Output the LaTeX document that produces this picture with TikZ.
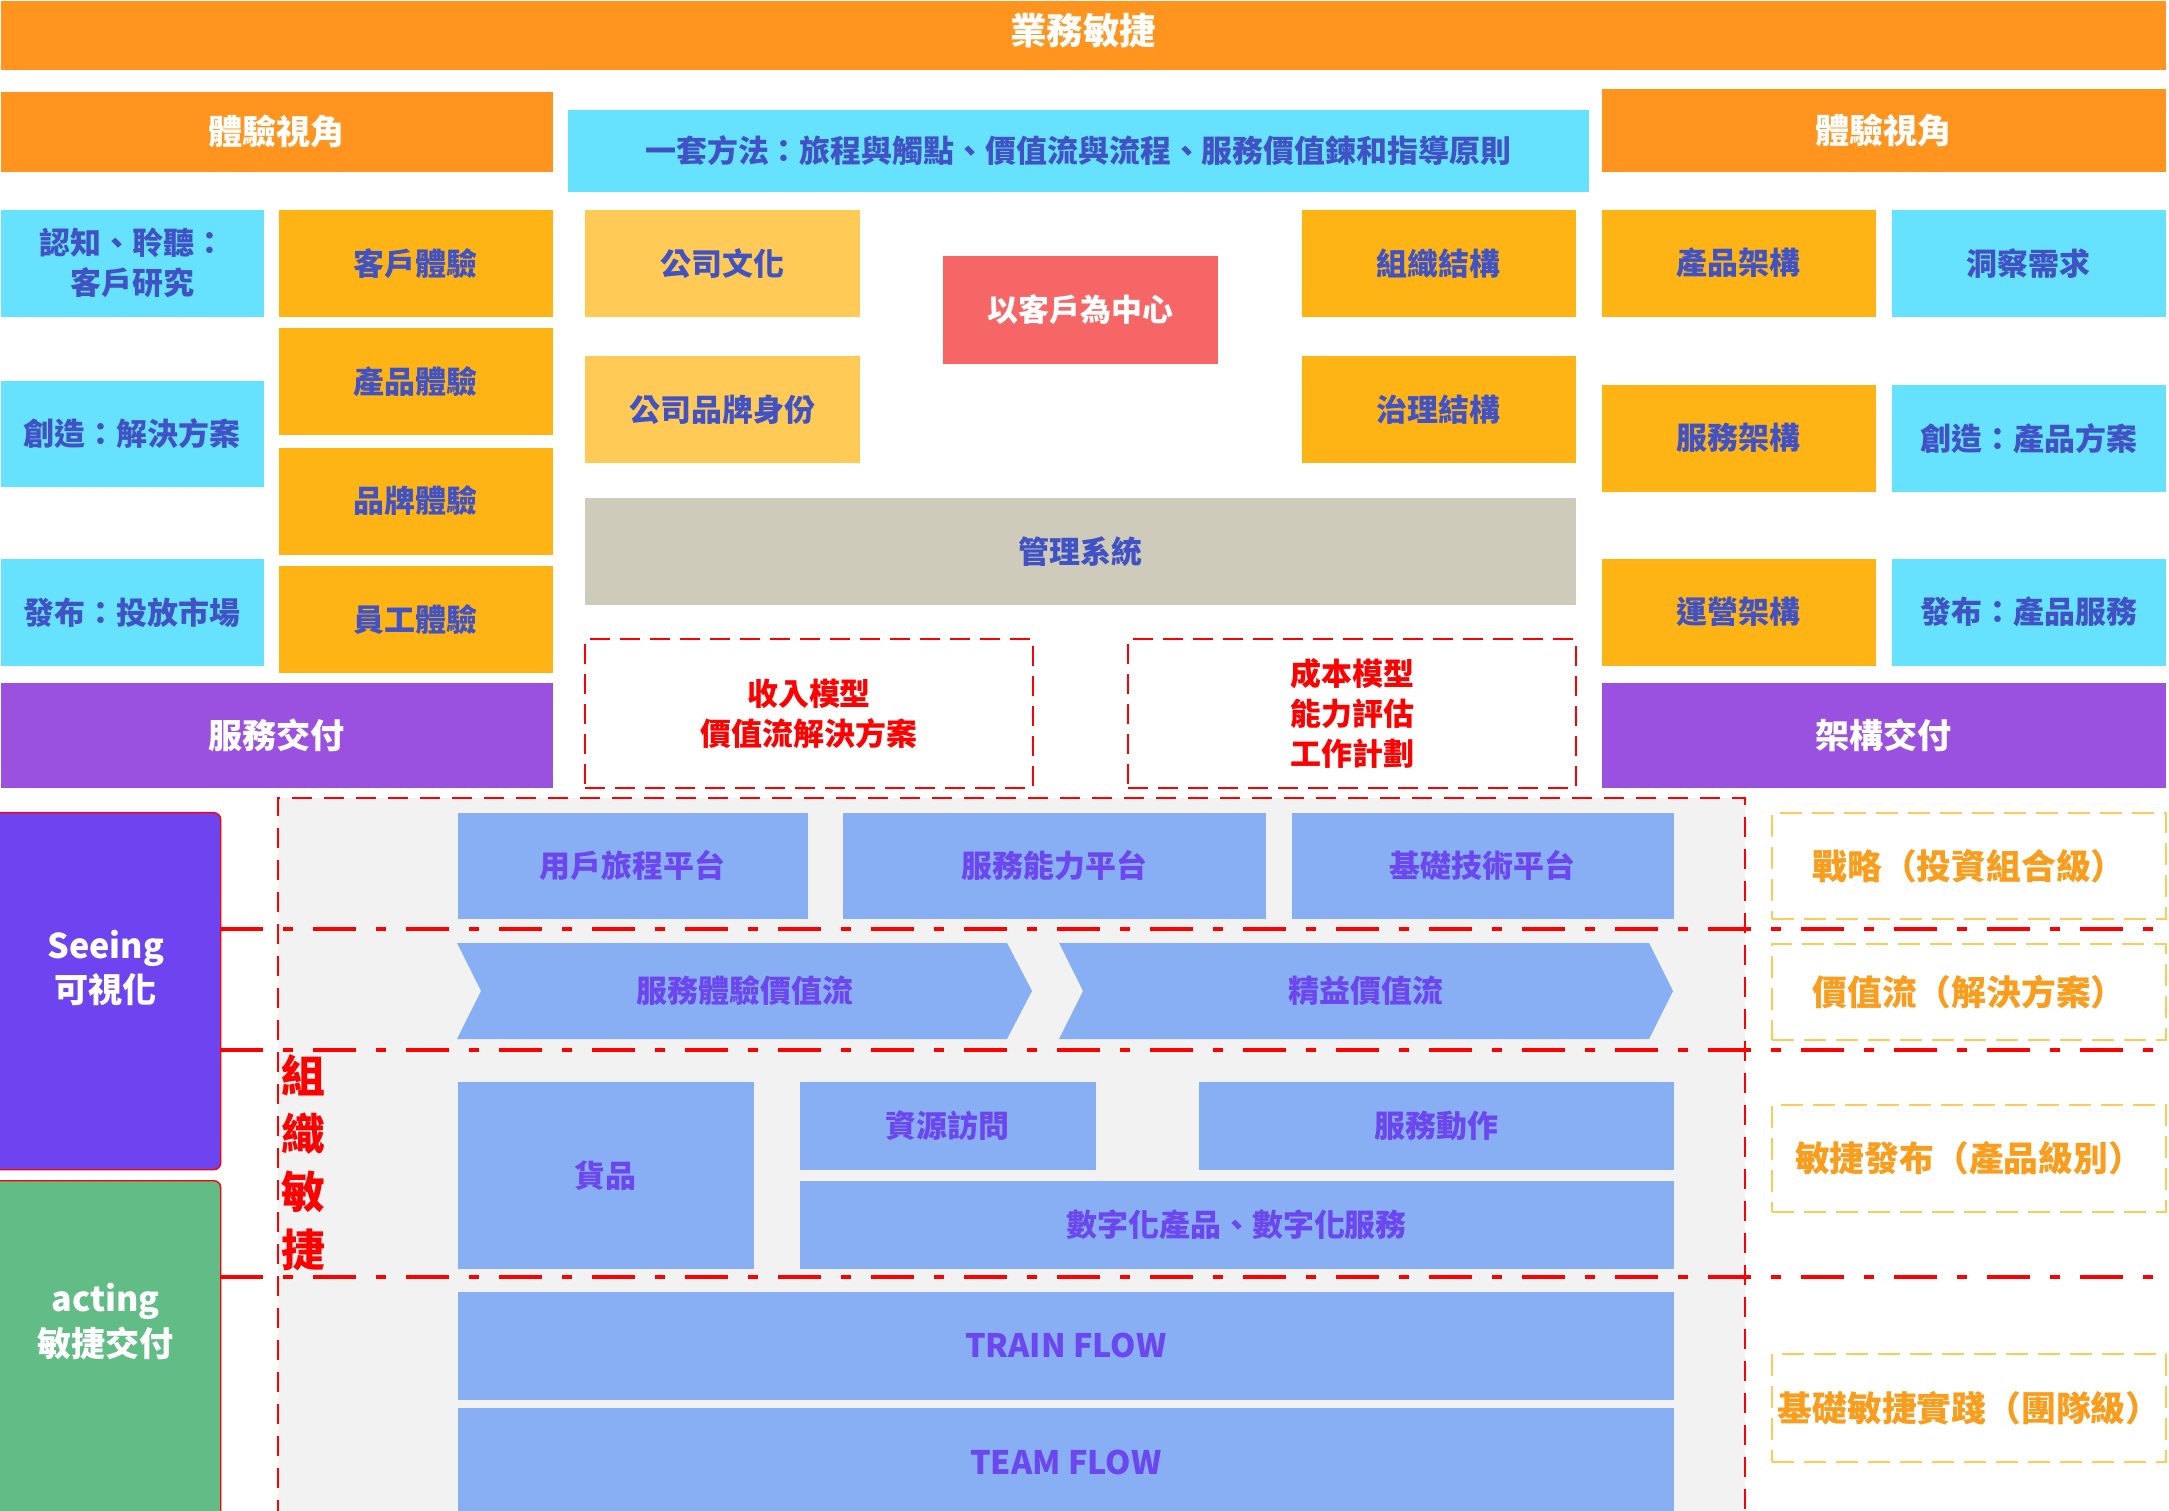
\documentclass[tikz,border=0pt]{standalone}
\usepackage{fontspec}
\setmainfont{Noto Sans CJK TC}
\usetikzlibrary{positioning}

\definecolor{bizorange}{HTML}{FF951F}
\definecolor{skycyan}{HTML}{66E2FF}
\definecolor{amber}{HTML}{FFB416}
\definecolor{paleamber}{HTML}{FFCA55}
\definecolor{coral}{HTML}{F76666}
\definecolor{mgmtgrey}{HTML}{CECBBA}
\definecolor{deliverpurple}{HTML}{9B51E0}
\definecolor{seeviolet}{HTML}{6E43F0}
\definecolor{actgreen}{HTML}{62BC86}
\definecolor{platblue}{HTML}{88AEF3}
\definecolor{lanegrey}{HTML}{F2F2F2}
\definecolor{inktext}{HTML}{4152C4}
\definecolor{flowtext}{HTML}{6C46EE}
\definecolor{leveltext}{HTML}{FA9C1C}
\definecolor{levelline}{HTML}{FFCA57}

\begin{document}
\begin{tikzpicture}[
  font=\bfseries\fontsize{8.8}{11.4}\selectfont,
  cell/.style={anchor=north west, inner sep=0pt, align=center, text=inktext,
               minimum width=2.74cm, minimum height=1.07cm},
  ambercell/.style={cell, fill=amber},
  cyancell/.style={cell, fill=skycyan},
  palecell/.style={cell, fill=paleamber},
  hubcell/.style={cell, fill=coral, text=white},
  topbar/.style={cell, fill=bizorange, text=white, font=\bfseries\fontsize{10.4}{13}\selectfont},
  viewbar/.style={topbar, font=\bfseries\fontsize{9.7}{12}\selectfont},
  methodbar/.style={cell, fill=skycyan},
  mgmtbar/.style={cell, fill=mgmtgrey},
  deliverbar/.style={viewbar, fill=deliverpurple},
  modelbox/.style={cell, draw=red, line width=0.6pt, dash pattern=on 0.2cm off 0.1cm, text=red},
  modebox/.style={cell, rounded corners=0.07cm, draw=red, line width=0.4pt, text=white,
                  font=\bfseries\fontsize{9.7}{12.6}\selectfont},
  platform/.style={cell, fill=platblue, text=flowtext},
  flowlabel/.style={inner sep=0pt, text=flowtext},
  levelbox/.style={cell, minimum width=3.94cm, draw=levelline, line width=0.6pt,
                   dash pattern=on 0.22cm off 0.1cm, text=leveltext,
                   font=\bfseries\fontsize{9.9}{12}\selectfont},
  laneedge/.style={draw=red, line width=0.6pt, dash pattern=on 0.2cm off 0.12cm},
  sepline/.style={draw=red, line width=0.04cm, dash pattern=on 0.43cm off 0.2cm on 0.1cm off 0.2cm}
]
\path[use as bounding box, fill=white] (0,0) rectangle (21.69,-15.11);

% top band
\node[topbar, minimum width=21.65cm, minimum height=0.69cm, text depth=0.12cm] (agile) at (0,0) {業務敏捷};
\node[viewbar, minimum width=5.52cm, minimum height=0.80cm] (viewL) at (0,-0.91) {體驗視角};
\node[viewbar, minimum width=5.64cm, minimum height=0.83cm] (viewR) at (16.01,-0.88) {體驗視角};
\node[methodbar, minimum width=10.21cm, minimum height=0.82cm] (method) at (5.67,-1.09)
  {一套方法：旅程與觸點、價值流與流程、服務價值鍊和指導原則};

% left side
\node[cyancell, minimum width=2.63cm] (research) at (0,-2.09) {認知、聆聽：\\客戶研究};
\node[cyancell, minimum width=2.63cm, minimum height=1.06cm] (solution) at (0,-3.80) {創造：解決方案};
\node[cyancell, minimum width=2.63cm] (market) at (0,-5.58) {發布：投放市場};
\node[ambercell] (custexp) at (2.78,-2.09) {客戶體驗};
\node[ambercell, below=0.10cm of custexp] (prodexp) {產品體驗};
\node[ambercell, below=0.11cm of prodexp] (brandexp) {品牌體驗};
\node[ambercell, below=0.10cm of brandexp] (staffexp) {員工體驗};
\node[deliverbar, minimum width=5.52cm, minimum height=1.05cm] (svcdeliver) at (0,-6.82) {服務交付};

% centre
\node[palecell, minimum width=2.75cm] (culture) at (5.84,-2.09) {公司文化};
\node[palecell, minimum width=2.75cm, below=0.38cm of culture] (brandid) {公司品牌身份};
\node[hubcell, minimum width=2.75cm, minimum height=1.08cm] (hub) at (9.42,-2.55) {以客戶為中心};
\node[ambercell] (orgstruct) at (13.01,-2.09) {組織結構};
\node[ambercell, below=0.38cm of orgstruct] (govstruct) {治理結構};
\node[mgmtbar, minimum width=9.91cm] (mgmt) at (5.84,-4.97) {管理系統};
\node[modelbox, minimum width=4.48cm, minimum height=1.49cm] (revenue) at (5.84,-6.38)
  {收入模型\\價值流解決方案};
\node[modelbox, minimum width=4.48cm, minimum height=1.49cm] (cost) at (11.27,-6.38)
  {成本模型\\能力評估\\工作計劃};

% right side
\node[ambercell] (prodarch) at (16.01,-2.09) {產品架構};
\node[cyancell] (insight) at (18.91,-2.09) {洞察需求};
\node[ambercell] (svcarch) at (16.01,-3.84) {服務架構};
\node[cyancell] (offer) at (18.91,-3.84) {創造：產品方案};
\node[ambercell] (oparch) at (16.01,-5.58) {運營架構};
\node[cyancell] (service) at (18.91,-5.58) {發布：產品服務};
\node[deliverbar, minimum width=5.64cm, minimum height=1.05cm] (archdeliver) at (16.01,-6.82) {架構交付};

% organisation agility lane
\fill[lanegrey] (2.78,-7.98) rectangle (17.45,-15.11);
\draw[laneedge] (2.78,-15.2) |- (17.45,-7.98) -- (17.45,-15.2);

\node[modebox, fill=seeviolet, minimum width=2.30cm, minimum height=3.57cm, text depth=0.5cm] (seeing)
  at (-0.10,-8.12) {Seeing\\可視化};
\node[modebox, fill=actgreen, minimum width=2.30cm, minimum height=3.60cm, text depth=0.82cm] (acting)
  at (-0.10,-11.80) {acting\\敏捷交付};

\draw[sepline] (2.20,-9.29) -- (21.69,-9.29);
\draw[sepline] (2.20,-10.50) -- (21.69,-10.50);
\draw[sepline] (2.20,-12.77) -- (21.69,-12.77);

\node[text=red, inner sep=0pt, align=center, font=\bfseries\fontsize{12.5}{16.5}\selectfont] (orgagile)
  at (3.03,-11.63) {組\\織\\敏\\捷};

\node[platform, minimum width=3.50cm, minimum height=1.06cm] (journey) at (4.57,-8.12) {用戶旅程平台};
\node[platform, minimum width=4.23cm, minimum height=1.06cm] (capability) at (8.42,-8.12) {服務能力平台};
\node[platform, minimum width=3.82cm, minimum height=1.06cm] (techbase) at (12.91,-8.12) {基礎技術平台};

\fill[platblue] (4.57,-9.43) -- (10.07,-9.43) -- (10.32,-9.91) -- (10.07,-10.39)
  -- (4.57,-10.39) -- (4.81,-9.91) -- cycle;
\node[flowlabel] (svcflow) at (7.45,-9.91) {服務體驗價值流};
\fill[platblue] (10.59,-9.43) -- (16.49,-9.43) -- (16.73,-9.91) -- (16.49,-10.39)
  -- (10.59,-10.39) -- (10.83,-9.91) -- cycle;
\node[flowlabel] (leanflow) at (13.66,-9.91) {精益價值流};

\node[platform, minimum width=2.96cm, minimum height=1.87cm] (goods) at (4.57,-10.81) {貨品};
\node[platform, minimum width=2.96cm, minimum height=0.88cm] (access) at (7.99,-10.81) {資源訪問};
\node[platform, minimum width=4.75cm, minimum height=0.88cm] (action) at (11.98,-10.81) {服務動作};
\node[platform, minimum width=8.74cm, minimum height=0.88cm] (digital) at (7.99,-11.80) {數字化產品、數字化服務};
\node[platform, minimum width=12.16cm, minimum height=1.08cm, font=\bfseries\fontsize{9.2}{11}\selectfont]
  (train) at (4.57,-12.91) {TRAIN FLOW};
\node[platform, minimum width=12.16cm, minimum height=1.10cm, font=\bfseries\fontsize{9.2}{11}\selectfont]
  (team) at (4.57,-14.07) {TEAM FLOW};

% levels
\node[levelbox, minimum height=1.06cm] (strategy) at (17.71,-8.12) {戰略（投資組合級）};
\node[levelbox, minimum height=0.96cm] (stream) at (17.71,-9.43) {價值流（解決方案）};
\node[levelbox, minimum height=1.07cm] (release) at (17.71,-11.04) {敏捷發布（產品級別）};
\node[levelbox, minimum height=1.08cm] (practice) at (17.71,-13.53) {基礎敏捷實踐（團隊級）};
\end{tikzpicture}
\end{document}
